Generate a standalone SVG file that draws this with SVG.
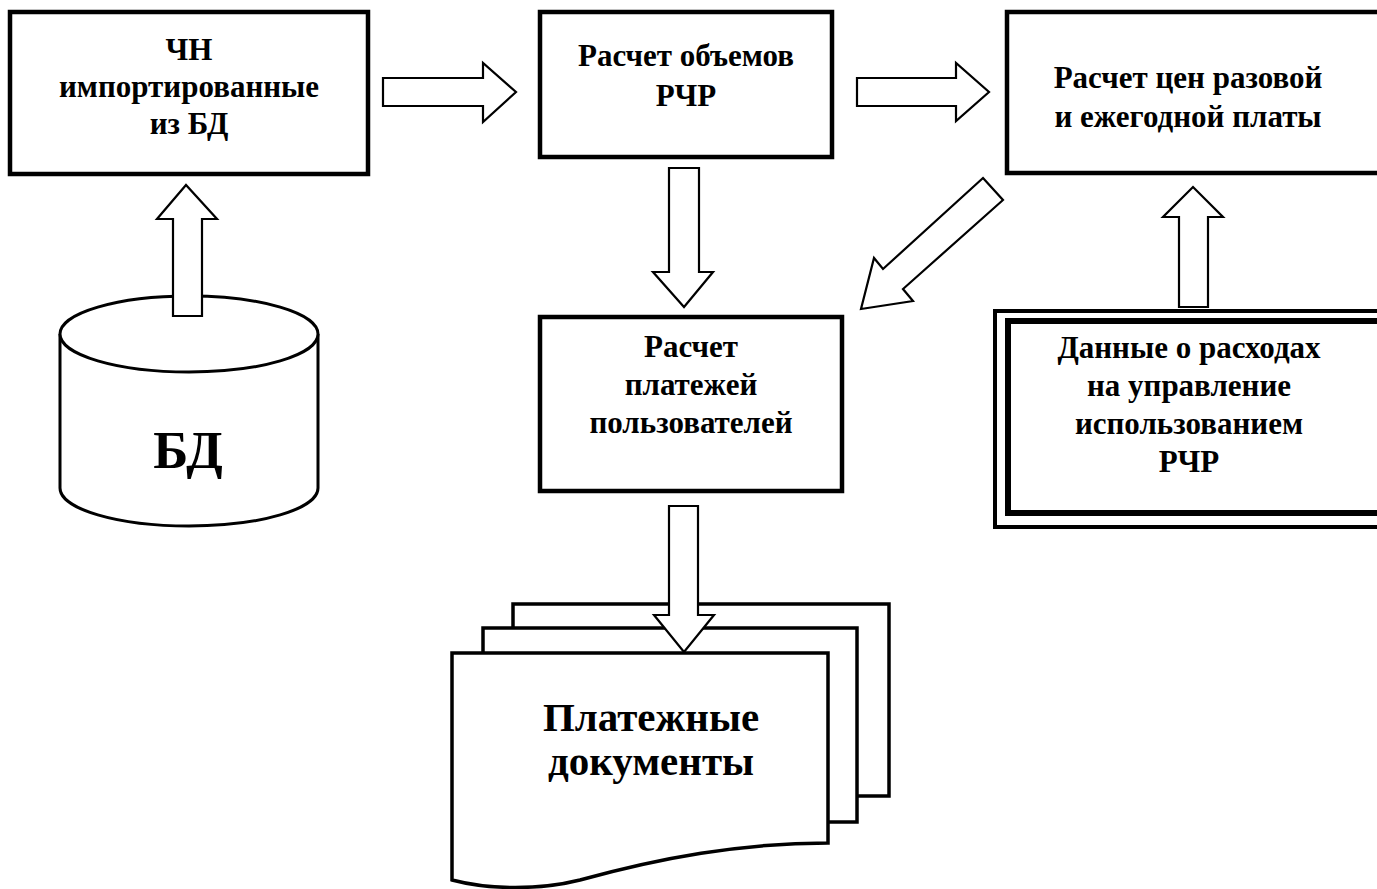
<svg xmlns="http://www.w3.org/2000/svg" width="1377" height="889" viewBox="0 0 1377 889">
<style>
.box{fill:#fff;stroke:#000;stroke-width:4.5}
.arr{fill:#fff;stroke:#000;stroke-width:2.2;stroke-linejoin:miter}
.doc{fill:#fff;stroke:#000;stroke-width:3.5}
.cyl{fill:#fff;stroke:#000;stroke-width:3}
text{font-family:"Liberation Serif","Times New Roman",serif;font-weight:bold;fill:#000;text-anchor:middle}
.t{font-size:31px}
.big{font-size:53px}
.mid{font-size:41px}
</style>
<rect width="1377" height="889" fill="#fff"/>

<g id="db">
<path class="cyl" d="M60,334 V488 A129,38 0 0 0 318,488 V334"/>
<ellipse class="cyl" cx="189" cy="334" rx="129" ry="38"/>
<text class="big" x="188" y="468">БД</text>
</g>

<g id="n-chn">
<rect class="box" x="10" y="12" width="358" height="162"/>
<text class="t" x="189" y="60">ЧН</text>
<text class="t" x="189" y="97">импортированные</text>
<text class="t" x="189" y="134">из БД</text>
</g>

<g id="n-volumes">
<rect class="box" x="540" y="12" width="292" height="145"/>
<text class="t" x="686" y="66">Расчет объемов</text>
<text class="t" x="686" y="106">РЧР</text>
</g>

<g id="n-prices">
<rect class="box" x="1007" y="12" width="390" height="161"/>
<text class="t" x="1188" y="88">Расчет цен разовой</text>
<text class="t" x="1188" y="127">и ежегодной платы</text>
</g>

<g id="n-payments">
<rect class="box" x="540" y="317" width="302" height="174"/>
<text class="t" x="691" y="357">Расчет</text>
<text class="t" x="691" y="395">платежей</text>
<text class="t" x="691" y="433">пользователей</text>
</g>

<g id="n-costs">
<rect x="995" y="311" width="400" height="216" fill="#fff" stroke="#000" stroke-width="4"/>
<rect x="1008" y="321" width="380" height="192" fill="none" stroke="#000" stroke-width="6"/>
<text class="t" x="1189" y="358">Данные о расходах</text>
<text class="t" x="1189" y="396">на управление</text>
<text class="t" x="1189" y="434">использованием</text>
<text class="t" x="1189" y="472">РЧР</text>
</g>

<g id="n-docs">
<rect class="doc" x="513" y="604" width="376" height="192"/>
<rect class="doc" x="483" y="628" width="374" height="194"/>
<path class="doc" d="M452,653 H828 V843 C740,843 660,858 580,880 C540,890 490,890 452,880 Z"/>
<text class="mid" x="651" y="731">Платежные</text>
<text class="mid" x="651" y="775">документы</text>
</g>

<g id="connectors">
<polygon class="arr" points="383,78 483,78 483,63 516,92 483,122 483,106 383,106"/>
<polygon class="arr" points="857,78 956,78 956,63 989,92 956,121 956,106 857,106"/>
<polygon class="arr" points="669,168 699,168 699,272 713,272 684,307 653,272 669,272"/>
<polygon class="arr" points="173,316 173,219 157,219 186,185 217,219 202,219 202,316"/>
<polygon class="arr" points="1179,307 1179,217 1163,217 1193,187 1223,217 1208,217 1208,307"/>
<polygon class="arr" points="983,178 1003,200 903,289 913,301 861,309 874,258 883,269"/>
<polygon class="arr" points="669,506 698,506 698,615 714,615 684,652 654,615 669,615"/>
</g>
</svg>
